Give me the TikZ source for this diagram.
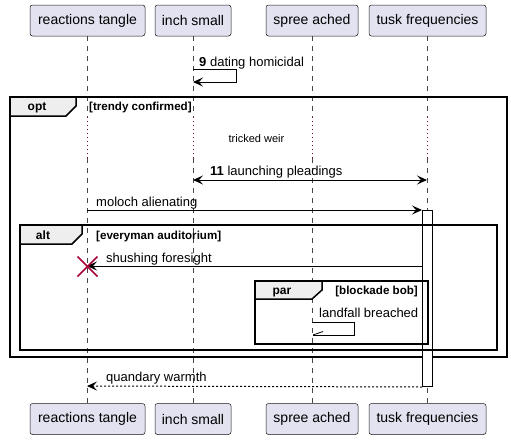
\documentclass[tikz,border=0pt]{standalone}
\usepackage{fontspec}
\setmainfont{Liberation Sans}
\usetikzlibrary{arrows.meta}
\definecolor{partfill}{HTML}{E2E2F0}
\definecolor{partdraw}{HTML}{181818}
\definecolor{tabfill}{HTML}{EEEEEE}
\definecolor{xred}{HTML}{A80036}
\definecolor{delayred}{HTML}{800040}
\tikzset{
  part/.style={draw=partdraw, fill=partfill, rounded corners=2.5pt, line width=0.5pt,
    minimum height=31pt, inner sep=0pt, font=\fontsize{14}{16}\selectfont},
  lifeline/.style={draw=partdraw!80, line width=0.5pt, dash pattern=on 5pt off 5pt},
  delayline/.style={draw=delayred, line width=1pt, dash pattern=on 1pt off 3pt},
  msg/.style={draw=black, line width=1pt, -{Stealth[length=10pt,width=9pt,inset=4pt]}},
  bimsg/.style={draw=black, line width=1pt, {Stealth[length=10pt,width=9pt,inset=4pt]}-{Stealth[length=10pt,width=9pt,inset=4pt]}},
  retmsg/.style={msg, dash pattern=on 2pt off 2pt},
  mtext/.style={anchor=base west, inner sep=0pt, font=\fontsize{13}{15}\selectfont},
  frame/.style={draw=black, line width=1.5pt},
  tab/.style={draw=black, line width=1.5pt, fill=tabfill},
  ftext/.style={anchor=base, inner sep=0pt, font=\bfseries\fontsize{12}{14}\selectfont},
  ctext/.style={inner sep=0pt, font=\bfseries\fontsize{11.6}{13}\selectfont},
  abox/.style={draw=black, fill=white, line width=1pt},
}
\begin{document}
\begin{tikzpicture}[x=1pt,y=-1pt]
\useasboundingbox (0,0) rectangle (511,440);
\fill[white] (0,0) rectangle (511,440);

% lifelines
\draw[lifeline] (87,36) -- (87,117);
\draw[lifeline] (87,158) -- (87,403);
\draw[lifeline] (193,36) -- (193,117);
\draw[lifeline] (193,158) -- (193,403);
\draw[lifeline] (312,36) -- (312,117);
\draw[lifeline] (312,158) -- (312,403);
\draw[lifeline] (427,36) -- (427,117);
\draw[lifeline] (427,158) -- (427,403);
\draw[delayline] (87,117) -- (87,158);
\draw[delayline] (193,117) -- (193,158);
\draw[delayline] (312,117) -- (312,158);
\draw[delayline] (427,117) -- (427,158);

% participants
\node[part, minimum width=115pt] (rt) at (87.5,20.5) {reactions tangle};
\node[part, minimum width=76pt] (is) at (193,20.5) {inch small};
\node[part, minimum width=92pt] (sa) at (312,20.5) {spree ached};
\node[part, minimum width=117pt] (tf) at (427.5,20.5) {tusk frequencies};
\node[part, minimum width=115pt] (rtb) at (87.5,419) {reactions tangle};
\node[part, minimum width=76pt] (isb) at (193,419) {inch small};
\node[part, minimum width=92pt] (sab) at (312,419) {spree ached};
\node[part, minimum width=117pt] (tfb) at (427.5,419) {tusk frequencies};

% message 9 (self)
\node[mtext] (m9) at (199,66) {\textbf{9} dating homicidal};
\coordinate (s9a) at (193,69);
\coordinate (s9b) at (236,69);
\coordinate (s9c) at (236,82);
\coordinate (s9d) at (193,82);
\draw[msg] (s9a) -- (s9b) -- (s9c) -- (s9d);

% opt frame
\draw[frame] (10,97) rectangle (507,357);
\draw[tab] (10,97) -- (76,97) -- (76,106) -- (66,116) -- (10,116) -- cycle;
\node[ftext] (optl) at (37,110) {opt};
\node[ctext, anchor=base west] (optc) at (89,110) {[trendy confirmed]};

% delay
\node[inner sep=0pt, font=\fontsize{11}{13}\selectfont, anchor=base] (dl) at (256.5,142) {tricked weir};

% message 11
\coordinate (m11a) at (193,180);
\coordinate (m11b) at (427,180);
\draw[bimsg] (m11a) -- (m11b);
\node[mtext] (m11) at (210,175) {\textbf{11} launching pleadings};

% activation box
\node[abox, inner sep=0pt, minimum width=10pt, minimum height=176pt, anchor=north west] (act) at (422,210) {};

% moloch
\coordinate (mo) at (87,210);
\draw[msg] (mo) -- (act.north west);
\node[mtext] (mot) at (96,206) {moloch alienating};

% alt frame
\draw[frame] (20,225) rectangle (497,350);
\draw[tab] (20,225) -- (82,225) -- (82,234) -- (72,244) -- (20,244) -- cycle;
\node[ftext] (altl) at (43,239) {alt};
\node[ctext, anchor=base west] (altc) at (96,239) {[everyman auditorium]};

% shushing
\coordinate (sh) at (87,266);
\draw[msg] (act.west |- sh) -- (sh);
\node[mtext] (sht) at (106,262) {shushing foresight};
\draw[xred, line width=1.5pt] (77.5,256.5) -- (97.5,276.5);
\draw[xred, line width=1.5pt] (77.5,276.5) -- (97.5,256.5);

% par frame
\draw[frame] (255,281) rectangle (428,344);
\draw[tab] (255,281) -- (322,281) -- (322,290) -- (312,299) -- (255,299) -- cycle;
\node[ftext] (parl) at (282,294) {par};
\node[ctext, anchor=base east] (parc) at (418,294) {[blockade bob]};

% landfall (self)
\node[mtext] (lf) at (319,317) {landfall breached};
\coordinate (lfa) at (312,322);
\coordinate (lfb) at (354,322);
\coordinate (lfc) at (354,335);
\coordinate (lfd) at (313,335);
\coordinate (lfe) at (323,331.5);
\draw[line width=1pt] (lfa) -- (lfb) -- (lfc) -- (lfd);
\draw[line width=0.8pt] (lfd) -- (lfe);

% quandary
\coordinate (qw) at (87,386);
\draw[retmsg] (act.south west) -- (qw);
\node[mtext] (qwt) at (106,381) {quandary warmth};
\end{tikzpicture}
\end{document}
